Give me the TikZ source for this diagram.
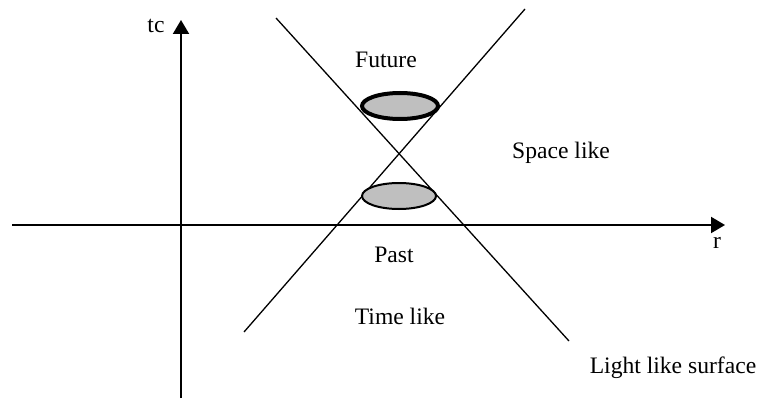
\documentclass[tikz,border=0pt]{standalone}
\usepackage{fontspec}
\setmainfont{Liberation Serif}
\usetikzlibrary{arrows.meta}

\begin{document}
\begin{tikzpicture}[x=0.5pt,y=-0.5pt,
  lbl/.style={anchor=base,inner sep=0pt,font=\fontsize{11.8}{13}\selectfont},
  axis/.style={line width=1pt,-{Triangle[length=7pt,width=8pt]}},
  cone/.style={line width=0.65pt}]
  \useasboundingbox (0,0) rectangle (760,401);
  \draw[axis] (12,225) -- (725,225);
  \draw[axis] (181,398) -- (181,20);
  \node[lbl] (tc) at (156,33) {tc};
  \node[lbl] (r) at (717,248) {r};
  \draw[cone] (276,18) -- (569,341);
  \draw[cone] (525,9) -- (244,332);
  \draw[line width=2pt,fill=lightgray] (400,106) ellipse [x radius=38,y radius=13];
  \draw[line width=1pt,fill=lightgray] (399,196) ellipse [x radius=37,y radius=13];
  \node[lbl] (future) at (386,68) {Future};
  \node[lbl] (space) at (561,158) {Space like};
  \node[lbl] (past) at (394,262) {Past};
  \node[lbl] (time) at (400,324) {Time like};
  \node[lbl] (light) at (673,373) {Light like surface};
\end{tikzpicture}
\end{document}
